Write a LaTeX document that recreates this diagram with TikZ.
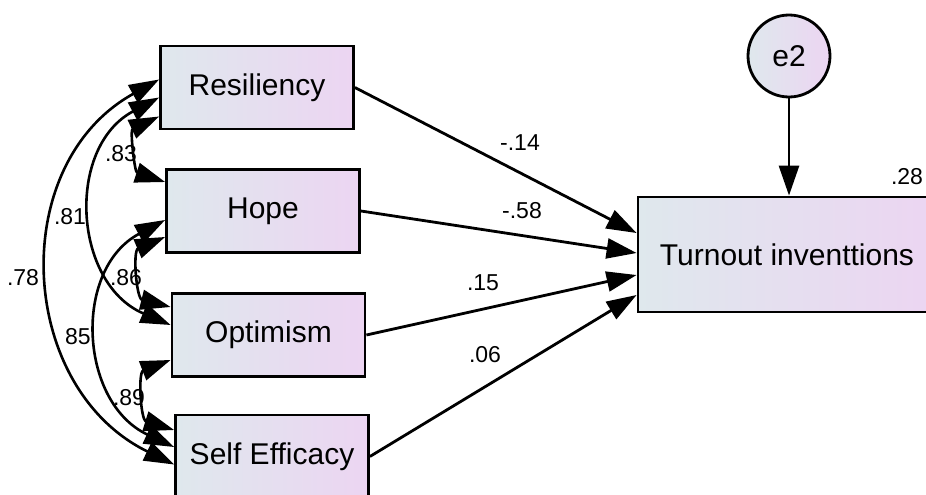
\documentclass[tikz,border=0pt]{standalone}
\usepackage{fontspec}
\setmainfont{Liberation Sans}
\usetikzlibrary{arrows.meta,positioning}
\definecolor{boxleft}{RGB}{223,232,237}
\definecolor{boxright}{RGB}{236,213,242}
\tikzset{
    %Define standard arrow tip
    >={Triangle[length=30pt,width=20pt]},
    %Define style for boxes
    obsvar/.style={
           rectangle,
           draw=black, line width=2.8pt,
           left color=boxleft, right color=boxright,
           minimum width=193pt,
           minimum height=83pt,
           font=\fontsize{30}{36}\selectfont,
           text centered},
    errvar/.style={
           circle,
           draw=black, line width=2.8pt,
           left color=boxleft, right color=boxright,
           minimum size=82pt, inner sep=0pt,
           font=\fontsize{30}{36}\selectfont},
    % Define arrow styles
    regpil/.style={->, line width=2.8pt},
    covpil/.style={<->, line width=2.6pt},
    coef/.style={font=\fontsize{23}{27}\selectfont, inner sep=0pt}
}
\begin{document}
\begin{tikzpicture}[x=1pt,y=-1pt]
\clip (0,0) rectangle (926,495);
 %nodes
\node[obsvar] (res) at (257,87.5) {Resiliency};
\node[obsvar] (hope) at (263,211) {Hope};
\node[obsvar] (opt) at (268.5,335) {Optimism};
\node[obsvar] (self) at (272,456.5) {Self Efficacy};
\node[obsvar, minimum width=298pt, minimum height=115pt] (turn) at (787,254.5) {Turnout inventtions};
\node[errvar] (e2) at (789,56) {e2};

 %regression weights
\draw[regpil] (res.east) -- ([yshift=21.5pt]turn.west);
\draw[regpil] (hope.east) -- ([yshift=1.5pt]turn.west);
\draw[regpil] (opt.east) -- ([yshift=-20.5pt]turn.west);
\draw[regpil] (self.east) -- ([yshift=-40.5pt]turn.west);
\draw[regpil] (e2) -- (e2 |- turn.north);

 %covariances
\draw[covpil] ([yshift=8pt]res.west) to[out=209,in=154,looseness=1.16] ([yshift=-8pt]self.west);
\draw[covpil] ([yshift=-10pt]res.west) to[out=208,in=157,looseness=1.19] ([yshift=10pt]opt.west);
\draw[covpil] ([yshift=-29pt]res.west) to[out=205,in=162,looseness=1.25] ([yshift=29pt]hope.west);
\draw[covpil] ([yshift=-9pt]hope.west) to[out=208,in=155,looseness=1.18] ([yshift=9.5pt]self.west);
\draw[covpil] ([yshift=-26pt]hope.west) to[out=203,in=166,looseness=1.29] ([yshift=28pt]opt.west);
\draw[covpil] ([yshift=-25pt]opt.west) to[out=201,in=163,looseness=1.28] ([yshift=26.5pt]self.west);

 %estimates
\node[coef] (w1) at (520,143) {-.14};
\node[coef] (w2) at (522,211) {-.58};
\node[coef] (w3) at (483,283) {.15};
\node[coef] (w4) at (485,355) {.06};
\node[coef] (r2) at (907,177) {.28};
\node[coef] (c1) at (121,154) {.83};
\node[coef] (c2) at (70,217) {.81};
\node[coef] (c3) at (23,278) {.78};
\node[coef] (c4) at (126,278) {.86};
\node[coef] (c5) at (78,337) {85};
\node[coef] (c6) at (129,398) {.89};

\end{tikzpicture}
\end{document}
